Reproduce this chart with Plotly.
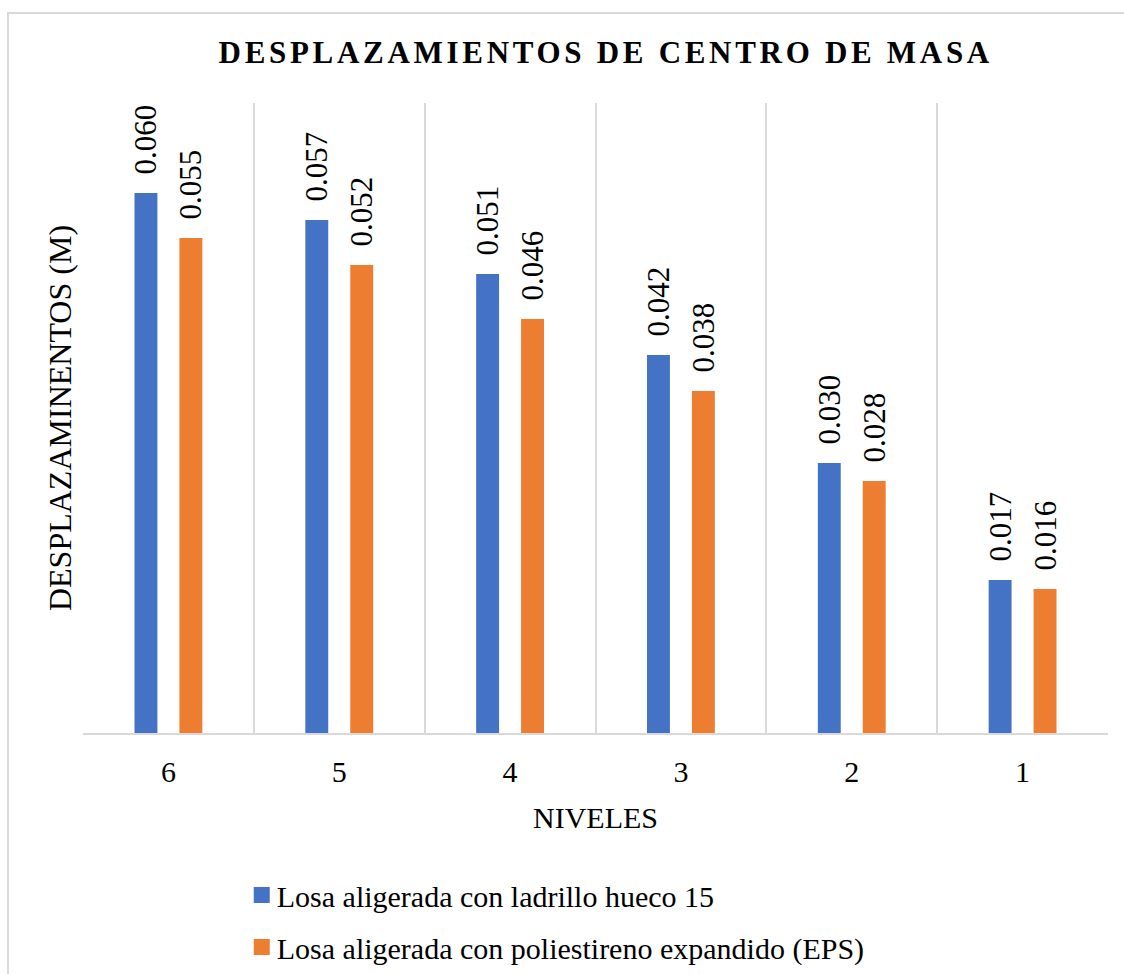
import plotly.graph_objects as go

niveles = ["6", "5", "4", "3", "2", "1"]
ladrillo = [0.060, 0.057, 0.051, 0.042, 0.030, 0.017]
eps = [0.055, 0.052, 0.046, 0.038, 0.028, 0.016]

serie1 = "Losa aligerada con ladrillo hueco 15"
serie2 = "Losa aligerada con poliestireno expandido (EPS)"
titulo = "DESPLAZAMIENTOS DE CENTRO DE MASA"
titulo_y = "DESPLAZAMINENTOS (M)"
titulo_x = "NIVELES"

FONT = "Liberation Serif, Times New Roman, serif"
BLUE = "#4472C4"
ORANGE = "#ED7D31"
GRID = "#D9D9D9"

label_font = dict(family=FONT, size=31, color="#000000")

fig = go.Figure()
for name, vals, col, grp in [(serie1, ladrillo, BLUE, "a"), (serie2, eps, ORANGE, "b")]:
    fig.add_trace(go.Bar(
        x=niveles, y=vals, name=name, marker=dict(color=col, line=dict(width=0)),
        legendgroup=grp,
        texttemplate="\u00a0\u00a0%{y:.3f}", textposition="outside", textangle=-90,
        textfont=label_font, outsidetextfont=label_font, insidetextfont=label_font,
        constraintext="none", cliponaxis=False, hoverinfo="x+y",
    ))

fig.update_layout(
    width=1124, height=974,
    margin=dict(l=83, r=16, t=103, b=241),
    paper_bgcolor="white", plot_bgcolor="white",
    barmode="group", bargap=0.474, bargroupgap=0.49,
    font=dict(family=FONT, size=30, color="#000000"),
    uniformtext=dict(mode=False),
    title=dict(text=titulo, x=0.51, xref="paper", xanchor="center",
               y=1 - 52.5 / 974, yref="container", yanchor="middle",
               font=dict(family=FONT, size=31, color="#000000", weight="bold")),
    xaxis=dict(
        type="category", showgrid=True, gridcolor=GRID, gridwidth=1.5,
        tickson="boundaries", ticks="", showline=True, linecolor=GRID, linewidth=2,
        tickfont=dict(family=FONT, size=30, color="#000000"),
        ticklabelstandoff=11,
        title=dict(text=titulo_x, font=dict(family=FONT, size=30, color="#000000"), standoff=20),
        automargin=False,
    ),
    yaxis=dict(
        range=[0, 0.07], showgrid=False, zeroline=False, showticklabels=False, ticks="",
        showline=False,
        title=dict(text=titulo_y, font=dict(family=FONT, size=32, color="#000000"), standoff=0),
        automargin=False,
    ),
    legend=dict(
        orientation="v", x=0.150, xanchor="left",
        y=1 - 869 / 974, yref="container", yanchor="top",
        traceorder="grouped", tracegroupgap=10,
        font=dict(family=FONT, size=30, color="#000000"),
        bgcolor="rgba(0,0,0,0)",
    ),
    showlegend=True,
)

# outer chart border
fig.add_shape(type="rect", xref="paper", yref="paper",
              x0=(8 - 83) / 1025, x1=(1135 - 83) / 1025,
              y0=(733 - 985) / 630, y1=(733 - 13) / 630,
              line=dict(color=GRID, width=2), fillcolor="rgba(0,0,0,0)", layer="below")

post = ("document.body.style.margin='0';"
        "var t=document.querySelector('.gtitle'); if(t){t.style.letterSpacing='3.7px';}"
        "document.querySelectorAll('text.bartext').forEach(function(e){"
        "e.style.fontFamily=\"'Liberation Serif', 'Times New Roman', serif\";});"
        "document.querySelectorAll('.legend .legendpoints path').forEach(function(e){"
        "e.style.transform='translate(25px,0px) scale(1.333)';});")
fig.write_html("out.html", post_script=post, config={"displayModeBar": False})
